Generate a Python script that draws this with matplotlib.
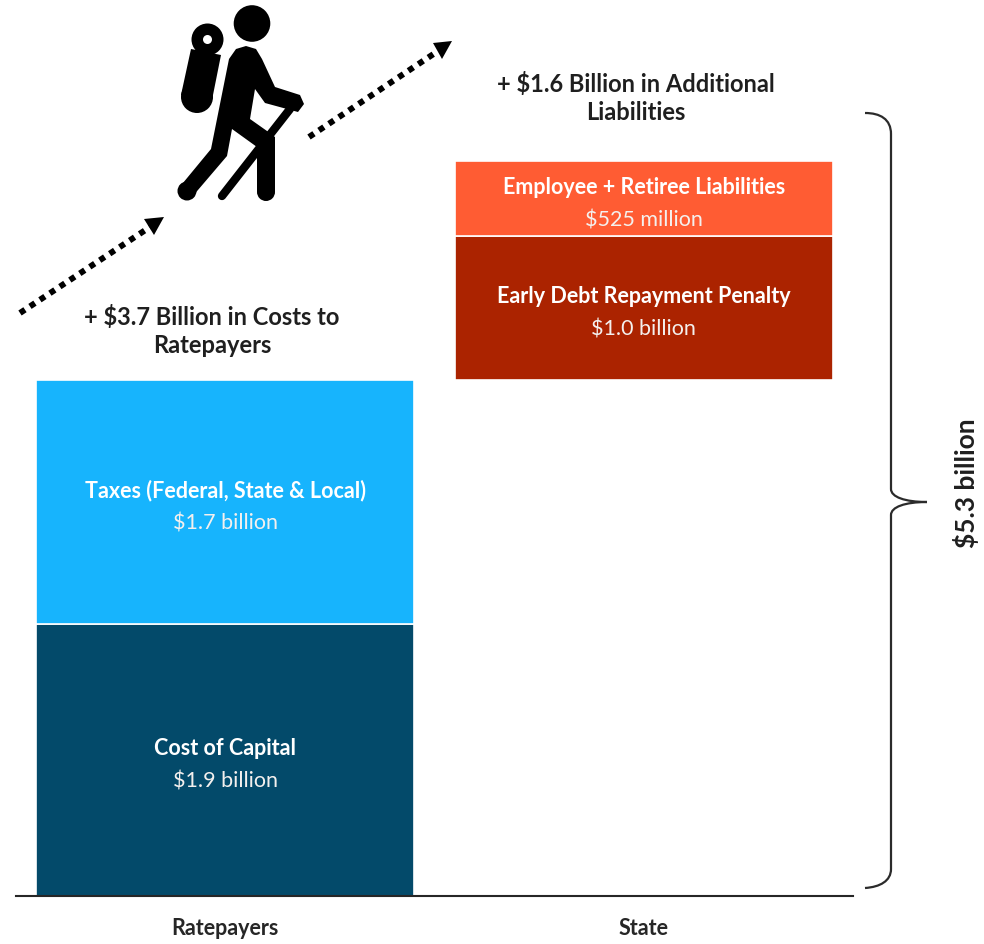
import matplotlib
matplotlib.use('Agg')
import matplotlib.pyplot as plt
from matplotlib.patches import Circle, Polygon, PathPatch
from matplotlib.path import Path

plt.rcParams['font.family'] = ['Lato', 'DejaVu Sans']

W, H = 984, 945

categories = ['Ratepayers', 'State']

# billions of dollars
ratepayer_names = ['Cost of Capital', 'Taxes (Federal, State & Local)']
ratepayer_values = [1.9, 1.7]
ratepayer_labels = ['$1.9 billion', '$1.7 billion']
ratepayer_colors = ['#034a6a', '#17b4fd']

state_names = ['Early Debt Repayment Penalty', 'Employee + Retiree Liabilities']
state_values = [1.0, 0.525]
state_labels = ['$1.0 billion', '$525 million']
state_colors = ['#ab2300', '#ff5c33']
state_start = sum(ratepayer_values)

fig = plt.figure(figsize=(W / 100, H / 100), dpi=100, facecolor='white')

# bar axes: baseline sits at y=897px, scale is about 143.4 px per billion
ax = fig.add_axes([16 / W, (H - 897) / H, (853 - 16) / W, 897 / H])
ax.set_xlim(-0.5, 1.5)
ax.set_ylim(0, 897 / 143.4)
bar_w = 0.903


def stack(x, values, names, labels, colors, start):
    bottom = start
    for v, name, lab, col in zip(values, names, labels, colors):
        ax.bar(x, v, bar_w, bottom=bottom, color=col, edgecolor='white', linewidth=1.2)
        mid = bottom + v / 2
        ax.annotate(name, (x, mid), xytext=(0, 9), textcoords='offset points',
                    ha='center', va='center', color='white', fontsize=15.5, fontweight='bold')
        ax.annotate(lab, (x, mid), xytext=(0, -15), textcoords='offset points',
                    ha='center', va='center', color='#f4f0ee', fontsize=15.5)
        bottom += v


stack(0, ratepayer_values, ratepayer_names, ratepayer_labels, ratepayer_colors, 0)
stack(1, state_values, state_names, state_labels, state_colors, state_start)

for s in ['top', 'left', 'right']:
    ax.spines[s].set_visible(False)
ax.spines['bottom'].set_color('#262626')
ax.spines['bottom'].set_linewidth(1.5)
ax.set_yticks([])
ax.set_xticks([0, 1])
ax.set_xticklabels(categories, fontsize=15.5, fontweight='bold', color='#262626')
ax.tick_params(axis='x', length=0, pad=15)
ax.patch.set_alpha(0)

# overlay in pixel coordinates for the hiker, arrows and brace
ov = fig.add_axes([0, 0, 1, 1])
ov.set_xlim(0, W)
ov.set_ylim(H, 0)
ov.axis('off')
ov.patch.set_alpha(0)

ov.text(212, 331, '+ $3.7 Billion in Costs to\nRatepayers', ha='center', va='center',
        fontsize=17, fontweight='bold', color='#1f1f1f', linespacing=1.25)
ov.text(636, 98, '+ $1.6 Billion in Additional\nLiabilities', ha='center', va='center',
        fontsize=17, fontweight='bold', color='#1f1f1f', linespacing=1.25)
ov.text(966, 483, '$5.3 billion', rotation=90, ha='center', va='center',
        fontsize=19, fontweight='bold', color='#1f1f1f')


def dotted_arrow(x0, y0, x1, y1, head):
    ov.plot([x0, x1], [y0, y1], color='black', lw=4.3, linestyle=(0, (1, 1)),
            dash_capstyle='butt')
    ov.add_patch(Polygon(head, closed=True, color='black', lw=0))


dotted_arrow(20, 314, 150, 228, [(144, 220), (164, 218), (154, 236)])
dotted_arrow(309, 138, 438, 52, [(433, 44), (452, 42), (442, 60)])

# hiker
ov.add_patch(Circle((252, 24.5), 18.3, color='black', lw=0))
ov.add_patch(Circle((207.5, 40.5), 16, color='black', lw=0))
ov.add_patch(Circle((207.5, 40.5), 4.5, color='white', lw=0))
ov.add_patch(Polygon([(191, 50), (221, 56), (212, 101), (181, 96)], closed=True,
                     color='black', lw=0, joinstyle='round'))
ov.add_patch(Circle((197, 98), 16, color='black', lw=0))
body = Polygon([(229, 60), (236, 50), (246, 47), (256, 50), (262, 60), (275, 88),
                (300, 96), (304, 105), (298, 113), (265, 104), (255, 90),
                (250, 120), (267, 132), (275, 138), (275, 193), (257, 193),
                (257, 148), (232, 130), (227, 157), (192, 198), (178, 190),
                (211, 150)], closed=True, color='black', lw=0)
ov.add_patch(body)
ov.add_patch(Circle((266, 193), 9, color='black', lw=0))
ov.add_patch(Circle((187, 192), 9.5, color='black', lw=0))
ov.plot([290, 222], [110, 197], color='black', lw=6, solid_capstyle='round')

# brace on the right
brace = Path(
    [(865, 114), (880, 114), (891, 120), (891, 135),
     (891, 490), (891, 498), (905, 503), (927, 503),
     (905, 503), (891, 508), (891, 516),
     (891, 870), (891, 882), (880, 888), (865, 889)],
    [Path.MOVETO, Path.CURVE4, Path.CURVE4, Path.CURVE4,
     Path.LINETO, Path.CURVE4, Path.CURVE4, Path.CURVE4,
     Path.CURVE4, Path.CURVE4, Path.CURVE4,
     Path.LINETO, Path.CURVE4, Path.CURVE4, Path.CURVE4])
ov.add_patch(PathPatch(brace, fill=False, edgecolor='#2b2b2b', lw=1.6))

fig.savefig('out.png', dpi=100, facecolor='white')
